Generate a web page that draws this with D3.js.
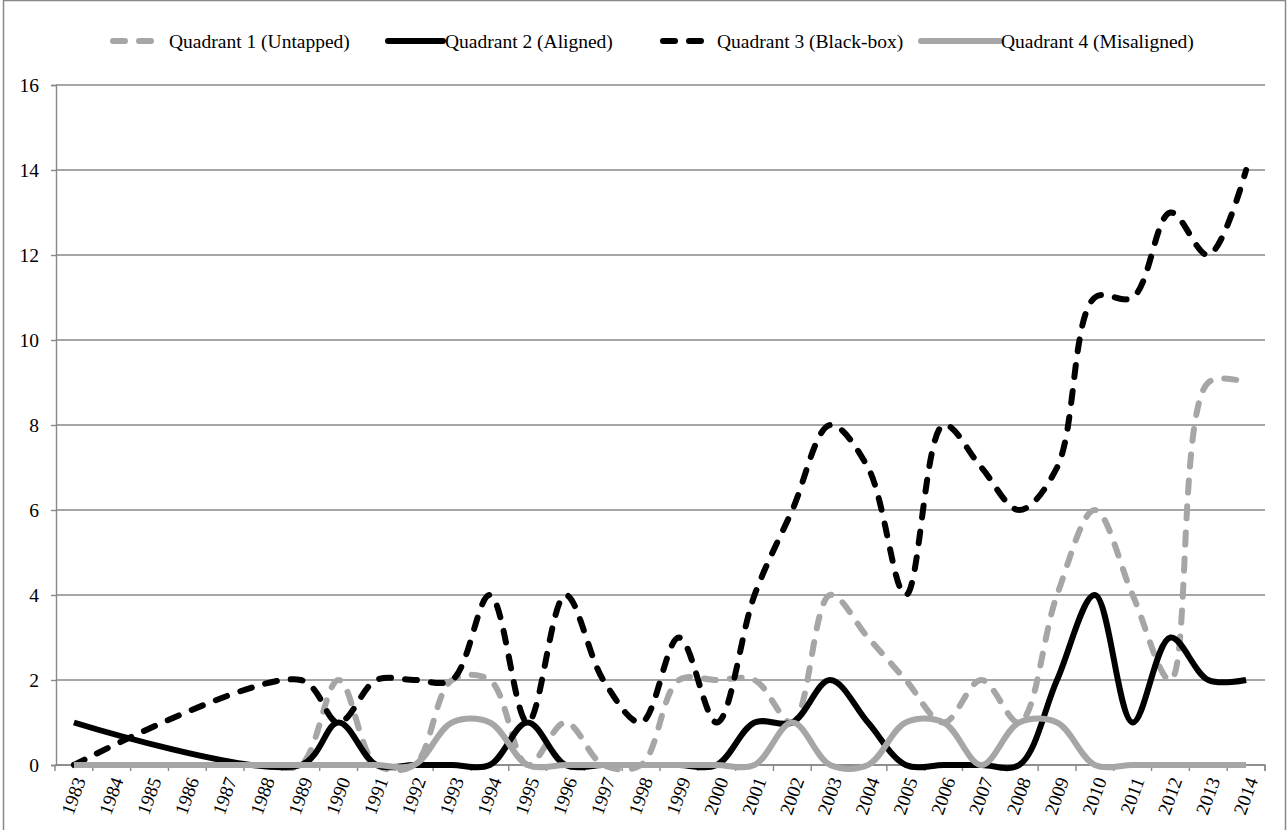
<!DOCTYPE html>
<html><head><meta charset="utf-8">
<script src="https://cdn.jsdelivr.net/npm/d3@7"></script>
<style>body{margin:0;background:#fff} svg{display:block}</style>
</head><body><svg id="c" width="1288" height="830"></svg>
<script>
const years = [1983,1984,1985,1986,1987,1988,1989,1990,1991,1992,1993,1994,1995,1996,1997,1998,1999,2000,2001,2002,2003,2004,2005,2006,2007,2008,2009,2010,2011,2012,2013,2014];
const q1 = [0,0,0,0,0,0,0,2,0,0,2,2,0,1,0,0,2,2,2,1,4,3,2,1,2,1,4,6,4,2,9,9];
const q2 = [1,null,null,null,null,null,0,1,0,0,0,0,1,0,0,0,0,0,1,1,2,1,0,0,0,0,2,4,1,3,2,2];
const q3 = [0,null,null,null,null,null,2,1,2,2,2,4,1,4,2,1,3,1,4,6,8,7,4,8,7,6,7,11,11,13,12,14];
const q4 = [0,0,0,0,0,0,0,0,0,0,1,1,0,0,0,0,0,0,0,1,0,0,1,1,0,1,1,0,0,0,0,0];
const seriesNames = ["Quadrant 1 (Untapped)","Quadrant 2 (Aligned)","Quadrant 3 (Black-box)","Quadrant 4 (Misaligned)"];
const yTicks = [0,2,4,6,8,10,12,14,16];

const series = [
  {name: seriesNames[0], values: q1, color: "#a6a6a6", dash: true},
  {name: seriesNames[1], values: q2, color: "#000000", dash: false},
  {name: seriesNames[2], values: q3, color: "#000000", dash: true},
  {name: seriesNames[3], values: q4, color: "#a6a6a6", dash: false}
];

const svg = d3.select("#c");
const gridColor = "#888888";
const font = "Liberation Serif";
const lw = 6, dashArr = "12,14";

// outer border
svg.append("rect").attr("x",3.5).attr("y",0.5).attr("width",1282).attr("height",840)
  .attr("fill","none").attr("stroke",gridColor).attr("stroke-width",1.5);

const x = d3.scaleBand().domain(years).range([55,1265]);
const y = d3.scaleLinear().domain([0,16]).range([765,85]);
const cx = d => x(d) + x.bandwidth()/2;

// gridlines
svg.append("g").selectAll("line").data(yTicks).join("line")
  .attr("x1",56).attr("x2",1265).attr("y1",d=>y(d)).attr("y2",d=>y(d))
  .attr("stroke",gridColor).attr("stroke-width",1.4);

// y axis
const yAxis = svg.append("g").attr("transform","translate(56,0)")
  .call(d3.axisLeft(y).tickValues(yTicks).tickSize(5).tickPadding(12).tickFormat(d3.format("d")));
yAxis.attr("font-family",null).attr("font-size",null);
yAxis.select(".domain").attr("stroke",gridColor).attr("stroke-width",1.4);
yAxis.selectAll(".tick line").attr("stroke",gridColor).attr("stroke-width",1.4);
yAxis.selectAll("text").style("font-family",font).style("font-size","19.5px").attr("fill","#000");

// x axis
const xAxis = svg.append("g").attr("transform","translate(0,765)")
  .call(d3.axisBottom(x).tickSize(0).tickFormat(""));
xAxis.select(".domain").attr("stroke",gridColor).attr("stroke-width",1.4).attr("d","M55,0H1265V6");
const bounds = years.map(d=>x(d)).concat([1265]);
svg.append("g").selectAll("line").data(bounds).join("line")
  .attr("x1",d=>d).attr("x2",d=>d).attr("y1",765).attr("y2",771)
  .attr("stroke",gridColor).attr("stroke-width",1.4);
svg.append("g").selectAll("text").data(years).join("text")
  .attr("transform",d=>`translate(${cx(d)+6},778) rotate(-70)`)
  .attr("text-anchor","end").attr("dominant-baseline","central")
  .style("font-family",font).style("font-size","19px").attr("fill","#000")
  .text(d=>d);

// lines
const line = d3.line()
  .defined(d=>d.v!==null)
  .x(d=>cx(d.year)).y(d=>y(d.v))
  .curve(d3.curveCatmullRom.alpha(0.5));
series.forEach(s=>{
  const pts = years.map((yr,i)=>({year:yr, v:s.values[i]})).filter(p=>p.v!==null);
  svg.append("path").datum(pts).attr("d",line)
    .attr("fill","none").attr("stroke",s.color).attr("stroke-width",lw)
    .attr("stroke-linecap", s.dash ? "round" : "butt")
    .attr("stroke-linejoin","round")
    .attr("stroke-dasharray", s.dash ? dashArr : null);
});

// legend
const legendItems = [
  {x1:113, x2:158, tx:169},
  {x1:388, x2:443, tx:445},
  {x1:663, x2:708, tx:717},
  {x1:921, x2:1000, tx:1001}
];
const lg = svg.append("g");
series.forEach((s,i)=>{
  const L = legendItems[i];
  lg.append("line").attr("x1",L.x1).attr("x2",L.x2).attr("y1",41).attr("y2",41)
    .attr("stroke",s.color).attr("stroke-width",lw)
    .attr("stroke-linecap","round")
    .attr("stroke-dasharray", s.dash ? dashArr : null);
  lg.append("text").attr("x",L.tx).attr("y",41).attr("dominant-baseline","central")
    .style("font-family",font).style("font-size","19.5px").attr("fill","#000")
    .text(s.name);
});
</script></body></html>
